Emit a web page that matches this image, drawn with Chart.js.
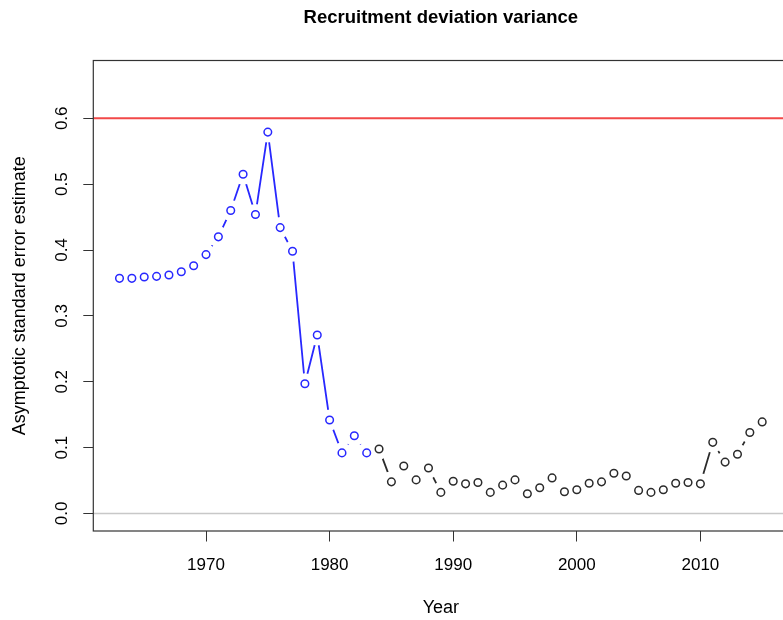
<!DOCTYPE html>
<html>
<head>
<meta charset="utf-8">
<script src="https://cdn.jsdelivr.net/npm/chart.js@4.4.1/dist/chart.umd.min.js"></script>
<style>
  html, body { margin: 0; padding: 0; background: #fff; overflow: hidden; }
  #wrap { width: 800px; height: 620px; }
</style>
</head>
<body>
<div id="wrap"><canvas id="seChart" width="800" height="620"></canvas></div>
<script>
// estimated years (blue) and the later ones (black)
const blueYears = [1963, 1964, 1965, 1966, 1967, 1968, 1969, 1970, 1971, 1972, 1973,
                   1974, 1975, 1976, 1977, 1978, 1979, 1980, 1981, 1982, 1983];
const blueSE = [0.357, 0.357, 0.359, 0.360, 0.362, 0.367, 0.376, 0.393, 0.420, 0.460, 0.515,
                0.454, 0.579, 0.434, 0.398, 0.197, 0.271, 0.142, 0.092, 0.118, 0.092];

const blackYears = [1984, 1985, 1986, 1987, 1988, 1989, 1990, 1991, 1992, 1993, 1994,
                    1995, 1996, 1997, 1998, 1999, 2000, 2001, 2002, 2003, 2004, 2005,
                    2006, 2007, 2008, 2009, 2010, 2011, 2012, 2013, 2014, 2015];
const blackSE = [0.098, 0.048, 0.072, 0.051, 0.069, 0.032, 0.049, 0.045, 0.047, 0.032, 0.043,
                 0.051, 0.030, 0.039, 0.054, 0.033, 0.036, 0.046, 0.048, 0.061, 0.057, 0.035,
                 0.032, 0.036, 0.046, 0.047, 0.045, 0.108, 0.078, 0.090, 0.123, 0.139];

const xTicks = [1970, 1980, 1990, 2000, 2010];
const yTicks = [0.0, 0.1, 0.2, 0.3, 0.4, 0.5, 0.6];

// horizontal reference lines (abline style)
const refValues = [0.6, 0.0];
const refColors = ['rgb(242,72,72)', '#c8c8c8'];
const refWidths = [2, 1.5];

const BLUE = 'rgb(40,40,255)';
const DARK = '#2b2b2b';
const FONT = 'Liberation Sans, Arial, Helvetica, sans-serif';

const toXY = (xs, ys) => xs.map((x, i) => ({x: x, y: ys[i]}));
const bluePts = toXY(blueYears, blueSE);
const blackPts = toXY(blackYears, blackSE);

// abline + box around the plot region, rotated y labels
const rPlot = {
  id: 'rPlot',
  beforeDatasetsDraw(chart) {
    const {ctx, chartArea: a, scales: {y}} = chart;
    ctx.save();
    refValues.forEach((v, i) => {
      const py = y.getPixelForValue(v);
      ctx.strokeStyle = refColors[i];
      ctx.lineWidth = refWidths[i];
      ctx.beginPath();
      ctx.moveTo(a.left, py);
      ctx.lineTo(a.right, py);
      ctx.stroke();
    });
    ctx.restore();
  },
  afterDraw(chart) {
    const {ctx, chartArea: a, scales: {y}} = chart;
    ctx.save();
    ctx.strokeStyle = '#333';
    ctx.lineWidth = 1.2;
    ctx.strokeRect(a.left, a.top, a.right - a.left, a.bottom - a.top);
    ctx.fillStyle = '#000';
    ctx.font = '17px ' + FONT;
    ctx.textAlign = 'center';
    ctx.textBaseline = 'middle';
    y.ticks.forEach(t => {
      ctx.save();
      ctx.translate(62, y.getPixelForValue(t.value));
      ctx.rotate(-Math.PI / 2);
      ctx.fillText(t.value.toFixed(1), 0, 0);
      ctx.restore();
    });
    ctx.restore();
  }
};

new Chart(document.getElementById('seChart'), {
  type: 'line',
  data: {
    datasets: [
      {data: bluePts, borderColor: BLUE, borderWidth: 1.8, pointRadius: 0, order: 3},
      {data: blackPts, borderColor: DARK, borderWidth: 1.8, pointRadius: 0, order: 3},
      // white halos give the gapped "both" look between points
      {data: bluePts.concat(blackPts), showLine: false, pointRadius: 10.5,
       pointBorderWidth: 0, pointBackgroundColor: '#fff', pointBorderColor: '#fff', order: 2},
      {data: bluePts, showLine: false, pointRadius: 3.8, pointBorderWidth: 1.5,
       pointBorderColor: BLUE, pointBackgroundColor: '#fff', order: 1},
      {data: blackPts, showLine: false, pointRadius: 3.8, pointBorderWidth: 1.5,
       pointBorderColor: DARK, pointBackgroundColor: '#fff', order: 1}
    ]
  },
  options: {
    responsive: false,
    animation: false,
    events: [],
    layout: {padding: {left: 0, right: 11.6, top: 0, bottom: 0}},
    plugins: {
      legend: {display: false},
      tooltip: {enabled: false},
      title: {
        display: true,
        text: 'Recruitment deviation variance',
        fullSize: false,
        color: '#000',
        font: {family: FONT, size: 18.5, weight: 'bold', lineHeight: 1.2},
        padding: {top: 6.9, bottom: 31.4}
      }
    },
    scales: {
      x: {
        type: 'linear',
        min: 1960.88,
        max: 2017.12,
        afterFit: s => { s.height = 89; },
        afterBuildTicks: s => { s.ticks = xTicks.map(v => ({value: v})); },
        grid: {drawOnChartArea: false, drawTicks: true, tickLength: 10.5, color: '#333', lineWidth: 1},
        border: {display: false},
        ticks: {
          color: '#000',
          padding: 13.3,
          maxRotation: 0,
          font: {family: FONT, size: 17, lineHeight: 1.2},
          callback: v => String(v)
        },
        title: {
          display: true,
          text: 'Year',
          color: '#000',
          font: {family: FONT, size: 18, lineHeight: 1.2},
          padding: {top: 0, bottom: 1}
        }
      },
      y: {
        min: -0.0266,
        max: 0.6877,
        afterFit: s => { s.width = 93.3; },
        afterBuildTicks: s => { s.ticks = yTicks.map(v => ({value: v})); },
        grid: {drawOnChartArea: false, drawTicks: true, tickLength: 10, color: '#333', lineWidth: 1},
        border: {display: false},
        ticks: {display: false},
        title: {
          display: true,
          text: 'Asymptotic standard error estimate',
          color: '#000',
          font: {family: FONT, size: 18, lineHeight: 1.2},
          padding: {top: 9.2, bottom: 0}
        }
      }
    }
  },
  plugins: [rPlot]
});
</script>
</body>
</html>
